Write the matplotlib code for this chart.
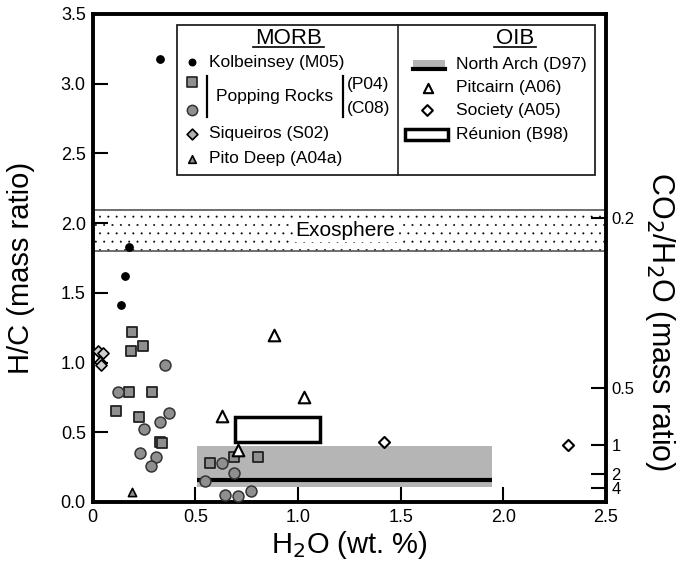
import matplotlib
matplotlib.use("Agg")
import matplotlib.pyplot as plt
from matplotlib.patches import Rectangle
from matplotlib.lines import Line2D

plt.rcParams['font.family'] = ['Liberation Sans', 'DejaVu Sans']
plt.rcParams['hatch.linewidth'] = 0.2

# MORB
kol_x = [0.326, 0.177, 0.158, 0.138]
kol_y = [3.18, 1.83, 1.62, 1.41]
p04_x = [0.193, 0.245, 0.185, 0.176, 0.29, 0.113, 0.227, 0.326, 0.339, 0.572, 0.688, 0.806]
p04_y = [1.22, 1.12, 1.08, 0.79, 0.79, 0.65, 0.61, 0.43, 0.42, 0.28, 0.32, 0.325]
c08_x = [0.124, 0.35, 0.374, 0.329, 0.248, 0.229, 0.31, 0.285, 0.63, 0.688, 0.548, 0.642, 0.709, 0.769]
c08_y = [0.79, 0.985, 0.64, 0.576, 0.52, 0.354, 0.325, 0.258, 0.278, 0.21, 0.15, 0.048, 0.043, 0.081]
siq_x = [0.027, 0.051, 0.035, 0.039]
siq_y = [1.08, 1.07, 1.007, 0.983]
pito_x = [0.189]
pito_y = [0.074]

# OIB
pit_x = [0.882, 1.03, 0.63, 0.709]
pit_y = [1.20, 0.75, 0.62, 0.37]
soc_x = [1.419, 2.317]
soc_y = [0.433, 0.41]
north_x = [0.506, 1.946]
north_y = [0.105, 0.40]
north_line = 0.158
reunion_x = [0.693, 1.108]
reunion_y = [0.433, 0.612]
exo_y = [1.80, 2.096]

# right axis: CO2/H2O mass ratio
co2_ticks = [0.2, 0.5, 1, 2, 4]
co2_labels = ['0.2', '0.5', '1', '2', '4']
hc_factor = (2 / 18) / (12 / 44)

L, R, T, B = 92.7, 606.0, 14.0, 502.0
W, H = 694, 566


def fr(px, py):
    return ((px - L) / (R - L), (B - py) / (B - T))


fig = plt.figure(figsize=(W / 100, H / 100), dpi=100)
ax = fig.add_axes([L / W, 1 - B / H, (R - L) / W, (B - T) / H])
ax.set_xlim(0, 2.5)
ax.set_ylim(0, 3.5)

# exosphere band
ax.axhspan(exo_y[0], exo_y[1], facecolor='none', edgecolor='black', hatch='..', lw=0, zorder=1)
ax.axhline(exo_y[0], color='#555555', lw=1.2, zorder=1)
ax.axhline(exo_y[1], color='#555555', lw=1.2, zorder=1)
ax.text(1.23, (exo_y[0] + exo_y[1]) / 2, 'Exosphere', fontsize=15, ha='center', va='center', zorder=2,
        bbox=dict(facecolor='white', edgecolor='none', pad=1.5))

# North Arch
ax.add_patch(Rectangle((north_x[0], north_y[0]), north_x[1] - north_x[0], north_y[1] - north_y[0],
                       facecolor='#b5b5b5', edgecolor='none', zorder=1))
ax.plot(north_x, [north_line, north_line], color='black', lw=3, zorder=2, solid_capstyle='butt')
# Reunion
ax.add_patch(Rectangle((reunion_x[0], reunion_y[0]), reunion_x[1] - reunion_x[0], reunion_y[1] - reunion_y[0],
                       facecolor='white', edgecolor='black', lw=2.5, zorder=2))

ax.scatter(kol_x, kol_y, s=28, color='black', zorder=4)
ax.scatter(p04_x, p04_y, s=62, marker='s', color='#8f8f8f', edgecolor='#222222', lw=1.3, zorder=4)
ax.scatter(c08_x, c08_y, s=62, marker='o', color='#8f8f8f', edgecolor='#333333', lw=1.1, zorder=4)
ax.scatter(siq_x, siq_y, s=32, marker='D', color='#d0d0d0', edgecolor='black', lw=1.2, zorder=4)
ax.scatter(pito_x, pito_y, s=35, marker='^', color='#8f8f8f', edgecolor='black', lw=1.2, zorder=4)
ax.scatter(pit_x, pit_y, s=70, marker='^', color='white', edgecolor='black', lw=1.5, zorder=5)
ax.scatter(soc_x, soc_y, s=32, marker='D', color='white', edgecolor='black', lw=1.5, zorder=5)

ax.set_xticks([0, 0.5, 1.0, 1.5, 2.0, 2.5])
ax.set_xticklabels(['0', '0.5', '1.0', '1.5', '2.0', '2.5'])
ax.set_yticks([0, 0.5, 1.0, 1.5, 2.0, 2.5, 3.0, 3.5])
ax.set_yticklabels(['0.0', '0.5', '1.0', '1.5', '2.0', '2.5', '3.0', '3.5'])
ax.tick_params(direction='in', length=11, width=1.5, labelsize=13, pad=5)
for sp in ax.spines.values():
    sp.set_linewidth(2.8)

ax.set_xlabel('H$_2$O (wt. %)', fontsize=21, labelpad=2)
ax.set_ylabel('H/C (mass ratio)', fontsize=21)
ax.yaxis.set_label_coords(-0.112, 0.48)

ax2 = ax.twinx()
ax2.set_ylim(ax.get_ylim())
ax2.set_yticks([hc_factor / r for r in co2_ticks])
ax2.set_yticklabels(co2_labels)
ax2.tick_params(direction='in', length=11, width=1.5, labelsize=12, pad=4)
for sp in ax2.spines.values():
    sp.set_visible(False)
ax2.set_ylabel('CO$_2$/H$_2$O (mass ratio)', fontsize=22, rotation=270, va='center')
ax2.yaxis.set_label_coords(1.105, 0.37)

# legend box
tr = ax2.transAxes
x0, y0 = fr(176.7, 175)
x1, y1 = fr(595, 25)
ax2.add_patch(Rectangle((x0, y0), x1 - x0, y1 - y0, transform=tr, facecolor='white',
                        edgecolor='#222222', lw=1.3, zorder=10))
ax2.add_line(Line2D([fr(398.3, 0)[0]] * 2, [y0, y1], transform=tr, color='#222222', lw=1.2, zorder=11))

ax2.text(*fr(288.3, 38), 'MORB', transform=tr, fontsize=16, ha='center', va='center', zorder=12)
ax2.add_line(Line2D([fr(253, 0)[0], fr(323.5, 0)[0]], [fr(0, 47)[1]] * 2, transform=tr, color='black', lw=1.2, zorder=12))
ax2.text(*fr(515, 38), 'OIB', transform=tr, fontsize=16, ha='center', va='center', zorder=12)
ax2.add_line(Line2D([fr(494, 0)[0], fr(536, 0)[0]], [fr(0, 47)[1]] * 2, transform=tr, color='black', lw=1.2, zorder=12))

fs = 12.5
ax2.scatter(*fr(192.3, 62), s=22, color='black', transform=tr, zorder=12)
ax2.text(*fr(209, 62), 'Kolbeinsey (M05)', transform=tr, fontsize=fs, va='center', zorder=12)
ax2.scatter(*fr(191.7, 82), s=55, marker='s', color='#8f8f8f', edgecolor='#222222', lw=1.2, transform=tr, zorder=12)
ax2.scatter(*fr(191.7, 110), s=55, marker='o', color='#8f8f8f', edgecolor='#333333', lw=1.1, transform=tr, zorder=12)
ax2.add_line(Line2D([fr(207.3, 0)[0]] * 2, [fr(0, 76)[1], fr(0, 117)[1]], transform=tr, color='black', lw=1.6, zorder=12))
ax2.add_line(Line2D([fr(342.7, 0)[0]] * 2, [fr(0, 76)[1], fr(0, 117)[1]], transform=tr, color='black', lw=1.6, zorder=12))
ax2.text(*fr(216.5, 96), 'Popping Rocks', transform=tr, fontsize=fs, va='center', zorder=12)
ax2.text(*fr(347, 85), '(P04)', transform=tr, fontsize=fs, va='center', zorder=12)
ax2.text(*fr(347, 108.5), '(C08)', transform=tr, fontsize=fs, va='center', zorder=12)
ax2.scatter(*fr(191.7, 133.5), s=30, marker='D', color='#b0b0b0', edgecolor='black', lw=1.2, transform=tr, zorder=12)
ax2.text(*fr(209, 133.5), 'Siqueiros (S02)', transform=tr, fontsize=fs, va='center', zorder=12)
ax2.scatter(*fr(192.3, 158.5), s=30, marker='^', color='#8f8f8f', edgecolor='black', lw=1.2, transform=tr, zorder=12)
ax2.text(*fr(209, 158.5), 'Pito Deep (A04a)', transform=tr, fontsize=fs, va='center', zorder=12)

ax2.add_patch(Rectangle(fr(413.3, 71), fr(445, 0)[0] - fr(413.3, 0)[0], fr(0, 60)[1] - fr(0, 71)[1],
                        transform=tr, facecolor='#b5b5b5', edgecolor='none', zorder=12))
ax2.add_line(Line2D([fr(413.3, 0)[0], fr(445, 0)[0]], [fr(0, 68.5)[1]] * 2, transform=tr, color='black', lw=3, zorder=13))
ax2.text(*fr(456, 65), 'North Arch (D97)', transform=tr, fontsize=fs, va='center', zorder=12)
ax2.scatter(*fr(428.3, 87.5), s=45, marker='^', color='white', edgecolor='black', lw=1.5, transform=tr, zorder=12)
ax2.text(*fr(456, 87.5), 'Pitcairn (A06)', transform=tr, fontsize=fs, va='center', zorder=12)
ax2.scatter(*fr(426.7, 110), s=30, marker='D', color='white', edgecolor='black', lw=1.5, transform=tr, zorder=12)
ax2.text(*fr(456, 110), 'Society (A05)', transform=tr, fontsize=fs, va='center', zorder=12)
ax2.add_patch(Rectangle(fr(405, 140), fr(448.3, 0)[0] - fr(405, 0)[0], fr(0, 129.3)[1] - fr(0, 140)[1],
                        transform=tr, facecolor='white', edgecolor='black', lw=2.5, zorder=12))
ax2.text(*fr(456, 134), 'Réunion (B98)', transform=tr, fontsize=fs, va='center', zorder=12)

fig.savefig('out.png', dpi=100)
